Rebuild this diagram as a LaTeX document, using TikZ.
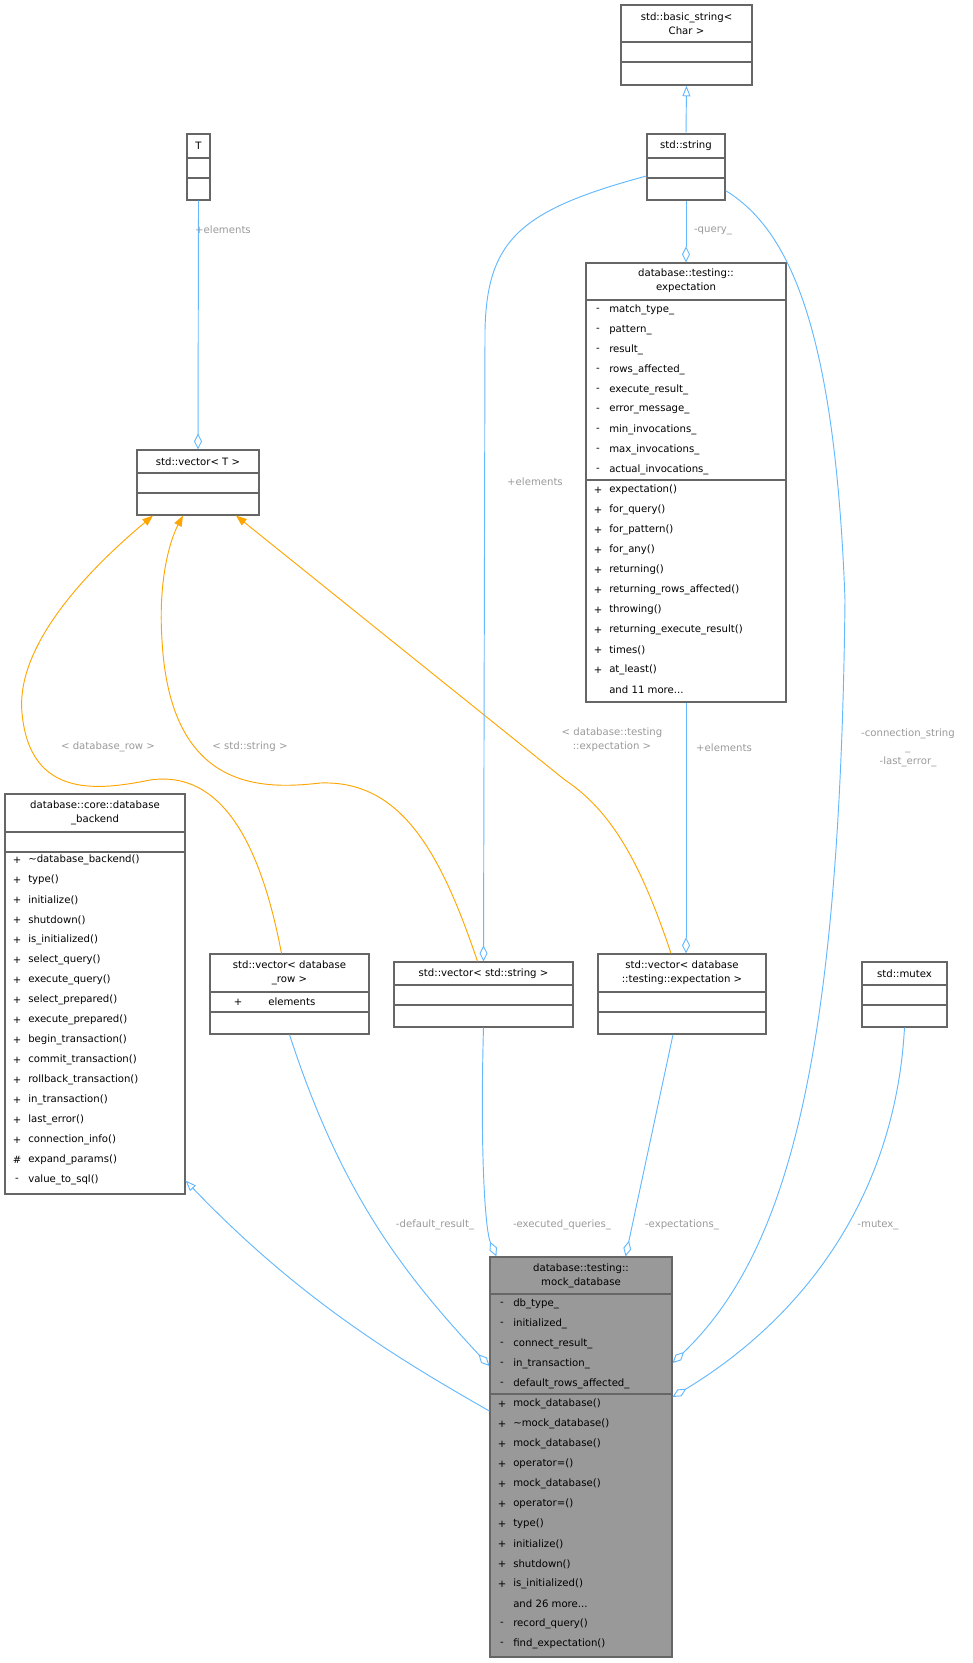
\documentclass[tikz,border=0pt]{standalone}
\usepackage{fontspec}
\setmainfont{DejaVu Sans}
\usetikzlibrary{arrows.meta,fit,calc}

\definecolor{edgeblue}{HTML}{63B8FF}
\definecolor{edgeorange}{HTML}{FFA500}
\definecolor{labelgrey}{HTML}{9A9A9A}
\definecolor{boxline}{HTML}{666666}
\definecolor{mockfill}{HTML}{999999}

\newcommand\moredots{...}
% one compartment row per entry: prefix/name
\newcommand\memberlist[3]{%
  \foreach \p/\m [count=\i] in {#3} {
    \node[sym] at (#1+12,#2+20*\i-10) {\p};
    \node[mem] at (#1+23,#2+20*\i-10) {\m};
  }}

\begin{document}
\begin{tikzpicture}[%
    x=0.75pt, y=-0.75pt,         % pixel grid, top-down
    font=\fontsize{7.6}{10.5}\selectfont,
    ]
% -------------------------------------------------
% Box and connector styles
\tikzset{
  cls/.style={draw=boxline, line width=0.9pt, inner sep=0pt, rectangle},
  part/.style={draw=boxline, line width=0.9pt},
  sym/.style={inner sep=0pt},
  mem/.style={anchor=west, inner sep=0pt},
  title/.style={align=center, inner sep=0pt},
  lbl/.style={text=labelgrey, align=center, inner sep=1pt},
  usage/.style={draw=edgeblue, line width=0.7pt,
    {Diamond[open, length=12pt, width=6pt]}-},
  inherit/.style={draw=edgeblue, line width=0.7pt,
    {Triangle[open, length=8pt, width=6pt]}-},
  templ/.style={draw=edgeorange, line width=0.7pt,
    {Triangle[length=8pt, width=6pt]}-},
}
\useasboundingbox (0,0) rectangle (973,1663);
% -------------------------------------------------
% Classes
\node[cls, fit={(621,5)(752,85)}] (bstr) {};
\node[title] at (686.5,24) {std::basic\_string<\\Char >};
\draw[part] (621,42) -- (752,42) (621,62) -- (752,62);

\node[cls, fit={(647,134)(725,200)}] (str) {};
\node[title] at (686,146) {std::string};
\draw[part] (647,158) -- (725,158) (647,178) -- (725,178);

\node[cls, fit={(187,134)(210,200)}] (tpar) {};
\node[title] at (198.5,146) {T};
\draw[part] (187,158) -- (210,158) (187,178) -- (210,178);

\node[cls, fit={(137,450)(259,515)}] (vect) {};
\node[title] at (198,462) {std::vector< T >};
\draw[part] (137,473) -- (259,473) (137,493) -- (259,493);

\node[cls, fit={(586,263)(786,702)}] (expc) {};
\node[title] at (686,281) {database::testing::\\expectation};
\draw[part] (586,300) -- (786,300) (586,480) -- (786,480);
\memberlist{586}{300}{-/match\_type\_, -/pattern\_, -/result\_,
  -/rows\_affected\_, -/execute\_result\_, -/error\_message\_,
  -/min\_invocations\_, -/max\_invocations\_, -/actual\_invocations\_}
\memberlist{586}{480}{+/expectation(), +/for\_query(), +/for\_pattern(),
  +/for\_any(), +/returning(), +/returning\_rows\_affected(), +/throwing(),
  +/returning\_execute\_result(), +/times(), +/at\_least(), {}/and 11 more\moredots}

\node[cls, fit={(5,794)(185,1194)}] (backend) {};
\node[title] at (95,813) {database::core::database\\\_backend};
\draw[part] (5,832) -- (185,832) (5,852) -- (185,852);
\memberlist{5}{850}{+/\textasciitilde database\_backend(), +/type(),
  +/initialize(), +/shutdown(), +/is\_initialized(), +/select\_query(),
  +/execute\_query(), +/select\_prepared(), +/execute\_prepared(),
  +/begin\_transaction(), +/commit\_transaction(),
  +/rollback\_transaction(), +/in\_transaction(), +/last\_error(),
  +/connection\_info(), \#/expand\_params(), -/value\_to\_sql()}

\node[cls, fit={(210,954)(369,1034)}] (vrow) {};
\node[title] at (289.5,973) {std::vector< database\\\_row >};
\draw[part] (210,992) -- (369,992) (210,1012) -- (369,1012);
\node[sym] at (238,1002) {+};
\node[mem] at (268,1002) {elements};

\node[cls, fit={(394,962)(573,1027)}] (vstr) {};
\node[title] at (483.5,974) {std::vector< std::string >};
\draw[part] (394,985) -- (573,985) (394,1005) -- (573,1005);

\node[cls, fit={(598,954)(766,1034)}] (vexp) {};
\node[title] at (682,973) {std::vector< database\\::testing::expectation >};
\draw[part] (598,992) -- (766,992) (598,1012) -- (766,1012);

\node[cls, fit={(862,962)(947,1027)}] (mtx) {};
\node[title] at (904.5,974) {std::mutex};
\draw[part] (862,985) -- (947,985) (862,1005) -- (947,1005);

\node[cls, fill=mockfill, fit={(490,1257)(672,1657)}] (mock) {};
\node[title] at (581,1276) {database::testing::\\mock\_database};
\draw[part] (490,1294) -- (672,1294) (490,1394) -- (672,1394);
\memberlist{490}{1294}{-/db\_type\_, -/initialized\_, -/connect\_result\_,
  -/in\_transaction\_, -/default\_rows\_affected\_}
\memberlist{490}{1394}{+/mock\_database(), +/\textasciitilde mock\_database(),
  +/mock\_database(), +/operator=(), +/mock\_database(), +/operator=(),
  +/type(), +/initialize(), +/shutdown(), +/is\_initialized(),
  {}/and 26 more\moredots, -/record\_query(), -/find\_expectation()}
% -------------------------------------------------
% Inheritance
\draw[inherit] (bstr.south) -- (str.north);
\draw[inherit] ($(backend.south east)+(0,-14)$)
  .. controls (300,1300) and (400,1360) .. ($(mock.west)+(0,-46)$);
% Template instances
\draw[templ] ($(vect.south)+(-45,0)$)
  .. controls (100,560) and (15,640) .. (22,713)
  .. controls (30,800) and (100,790) .. (150,780)
  .. controls (220,770) and (260,840) .. ($(vrow.north)+(-8,0)$);
\draw[templ] ($(vect.south)+(-15,0)$)
  .. controls (170,540) and (158,580) .. (162,640)
  .. controls (170,790) and (260,790) .. (320,783)
  .. controls (400,780) and (440,850) .. ($(vstr.north)+(-6,0)$);
\draw[templ] ($(vect.south)+(38,0)$) -- (565,780)
  .. controls (610,810) and (640,860) .. ($(vexp.north)+(-11,0)$);
% Usage
\draw[usage] (vect.north) -- (tpar.south);
\draw[usage] (expc.north) -- (str.south);
\draw[usage] (vexp.north -| expc.south) -- (expc.south);
\draw[usage] (vstr.north) -- (485,330)
  .. controls (487,240) and (520,210) .. ($(str.west)+(0,9)$);
\draw[usage] ($(mock.east)+(0,-94)$)
  .. controls (790,1250) and (840,1050) .. (845,600)
  .. controls (835,330) and (790,230) .. ($(str.south east)+(0,-10)$);
\draw[usage] ($(mock.west)+(0,-91)$)
  .. controls (400,1270) and (340,1190) .. (vrow.south);
\draw[usage] ($(mock.north west)+(7,0)$)
  .. controls (485,1230) and (480,1150) .. (vstr.south);
\draw[usage] ($(mock.north east)+(-47,0)$) -- ($(vexp.south)+(-9,0)$);
\draw[usage] ($(mock.east)+(0,-60)$)
  .. controls (800,1320) and (895,1200) .. (mtx.south);
% -------------------------------------------------
% Edge labels
\node[lbl] at (223,230) {+elements};
\node[lbl] at (713,231) {-query\_};
\node[lbl] at (535,482) {+elements};
\node[lbl] at (108,747) {< database\_row >};
\node[lbl] at (250,747) {< std::string >};
\node[lbl] at (612,740) {< database::testing\\::expectation >};
\node[lbl] at (724,748) {+elements};
\node[lbl] at (908,748) {-connection\_string\\\_\\-last\_error\_};
\node[lbl] at (435,1225) {-default\_result\_};
\node[lbl] at (562,1225) {-executed\_queries\_};
\node[lbl] at (682,1225) {-expectations\_};
\node[lbl] at (878,1225) {-mutex\_};
\end{tikzpicture}
\end{document}
